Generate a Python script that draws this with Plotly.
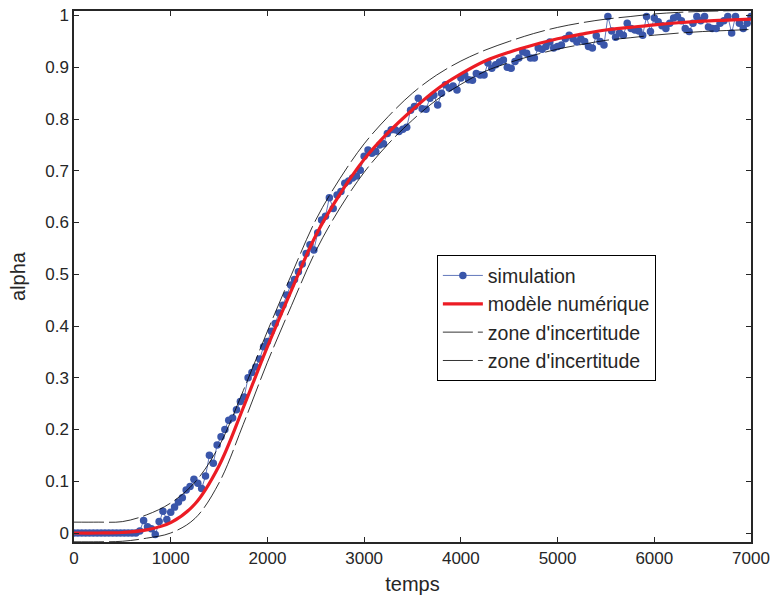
import plotly.graph_objects as go

# Simulated conversion (alpha) sampled every 40 time units
sim_time = list(range(0, 7001, 40))
sim_alpha = [
    0, 0, 0, 0, 0, 0, 0, 0, 0, 0,
    0, 0, 0, 0, 0, 0, 0, 0.004, 0.024, 0.012,
    0.008, -0.003, 0.022, 0.042, 0.026, 0.04, 0.05, 0.06, 0.068, 0.083,
    0.09, 0.104, 0.096, 0.086, 0.11, 0.15, 0.135, 0.17, 0.186, 0.2,
    0.218, 0.222, 0.238, 0.254, 0.263, 0.3, 0.31, 0.321, 0.336, 0.36,
    0.37, 0.39, 0.405, 0.425, 0.44, 0.46, 0.479, 0.49, 0.505, 0.52,
    0.54, 0.557, 0.547, 0.58, 0.605, 0.612, 0.648, 0.627, 0.653, 0.66,
    0.676, 0.68, 0.686, 0.69, 0.701, 0.728, 0.74, 0.734, 0.737, 0.75,
    0.752, 0.772, 0.779, 0.779, 0.776, 0.78, 0.784, 0.817, 0.824, 0.84,
    0.82, 0.819, 0.84, 0.846, 0.827, 0.85, 0.866, 0.86, 0.864, 0.856,
    0.879, 0.885, 0.876, 0.875, 0.888, 0.885, 0.885, 0.908, 0.898, 0.905,
    0.91, 0.914, 0.9, 0.898, 0.911, 0.918, 0.93, 0.927, 0.918, 0.918,
    0.937, 0.935, 0.94, 0.949, 0.937, 0.94, 0.943, 0.955, 0.962, 0.955,
    0.949, 0.955, 0.95, 0.94, 0.937, 0.961, 0.95, 0.943, 0.998, 0.97,
    0.958, 0.966, 0.962, 0.985, 0.975, 0.972, 0.97, 0.962, 0.998, 0.969,
    0.995, 0.988, 0.98, 0.975, 0.985, 0.995, 0.998, 0.99, 0.975, 0.969,
    0.985, 0.998, 0.99, 0.998, 0.978, 0.975, 0.975, 0.985, 0.99, 0.998,
    0.966, 0.998, 0.985, 0.975, 0.985, 0.998,
]

# Numerical model and its uncertainty envelope
model_time = [0, 250, 500, 750, 1000, 1250, 1500, 1750, 2000, 2250, 2500,
              2750, 3000, 3250, 3500, 3750, 4000, 4250, 4500, 4750, 5000,
              5250, 5500, 5750, 6000, 6250, 6500, 6750, 7000]
model_alpha = [0, 0, 0.001, 0.006, 0.02, 0.056, 0.13, 0.242, 0.36, 0.47,
               0.575, 0.655, 0.722, 0.774, 0.818, 0.857, 0.887, 0.912, 0.929,
               0.943, 0.955, 0.964, 0.972, 0.977, 0.982, 0.986, 0.989, 0.991,
               0.993]
upper_alpha = [0.021, 0.021, 0.022, 0.035, 0.058, 0.098, 0.168, 0.275, 0.39,
               0.5, 0.605, 0.685, 0.752, 0.805, 0.85, 0.885, 0.912, 0.933,
               0.95, 0.965, 0.977, 0.986, 0.993, 0.998, 1.003, 1.006, 1.008,
               1.009, 1.01]
lower_alpha = [-0.017, -0.017, -0.016, -0.01, 0.0, 0.028, 0.097, 0.21, 0.33,
               0.44, 0.545, 0.628, 0.697, 0.752, 0.798, 0.837, 0.867, 0.892,
               0.909, 0.923, 0.935, 0.944, 0.952, 0.957, 0.962, 0.966, 0.969,
               0.971, 0.973]

x_ticks = [0, 1000, 2000, 3000, 4000, 5000, 6000, 7000]
y_ticks = [0, 0.1, 0.2, 0.3, 0.4, 0.5, 0.6, 0.7, 0.8, 0.9, 1]
y_tick_text = ["0", "0.1", "0.2", "0.3", "0.4", "0.5", "0.6", "0.7", "0.8", "0.9", "1"]

BLUE = "rgb(58,86,170)"
RED = "rgb(236,28,36)"
AXIS = "#262626"
FONT = "Liberation Sans, Arial, sans-serif"

fig = go.Figure()
fig.add_trace(go.Scatter(
    x=sim_time, y=sim_alpha, mode="lines+markers", name="simulation",
    line=dict(color=BLUE, width=0.8),
    marker=dict(color=BLUE, size=7.5, line=dict(width=0)),
))
fig.add_trace(go.Scatter(
    x=model_time, y=model_alpha, mode="lines", name="modèle numérique",
    line=dict(color=RED, width=3.2, shape="spline"),
))
fig.add_trace(go.Scatter(
    x=model_time, y=upper_alpha, mode="lines", name="zone d'incertitude",
    line=dict(color="black", width=0.8, shape="spline", dash="30px,5px"),
))
fig.add_trace(go.Scatter(
    x=model_time, y=lower_alpha, mode="lines", name="zone d'incertitude",
    line=dict(color="black", width=0.8, shape="spline", dash="30px,5px"),
))

axis_common = dict(
    showgrid=False, zeroline=False, showline=True, mirror="ticks",
    linecolor=AXIS, linewidth=1.5, ticks="inside", ticklen=5,
    tickcolor=AXIS, tickwidth=1, automargin=False,
    tickfont=dict(size=17, color="#262626", family=FONT),
)

fig.update_layout(
    width=773, height=599,
    margin=dict(l=74, r=22, t=11, b=57, autoexpand=False),
    paper_bgcolor="white", plot_bgcolor="white",
    font=dict(family=FONT, size=17, color="#262626"),
    xaxis=dict(range=[0, 7000], tickvals=x_ticks,
               title=dict(text="temps", standoff=10, font=dict(size=20)),
               **axis_common),
    yaxis=dict(range=[-0.0174, 1.0087], tickvals=y_ticks, ticktext=y_tick_text,
               title=dict(text="alpha", standoff=14, font=dict(size=20)),
               **axis_common),
    legend=dict(
        x=0.536, y=0.54, xanchor="left", yanchor="top",
        bgcolor="white", bordercolor="black", borderwidth=1,
        font=dict(size=19.5, family=FONT, color="#262626"),
        tracegroupgap=0, itemwidth=40,
    ),
    showlegend=True,
)

fig.write_html("out.html")
